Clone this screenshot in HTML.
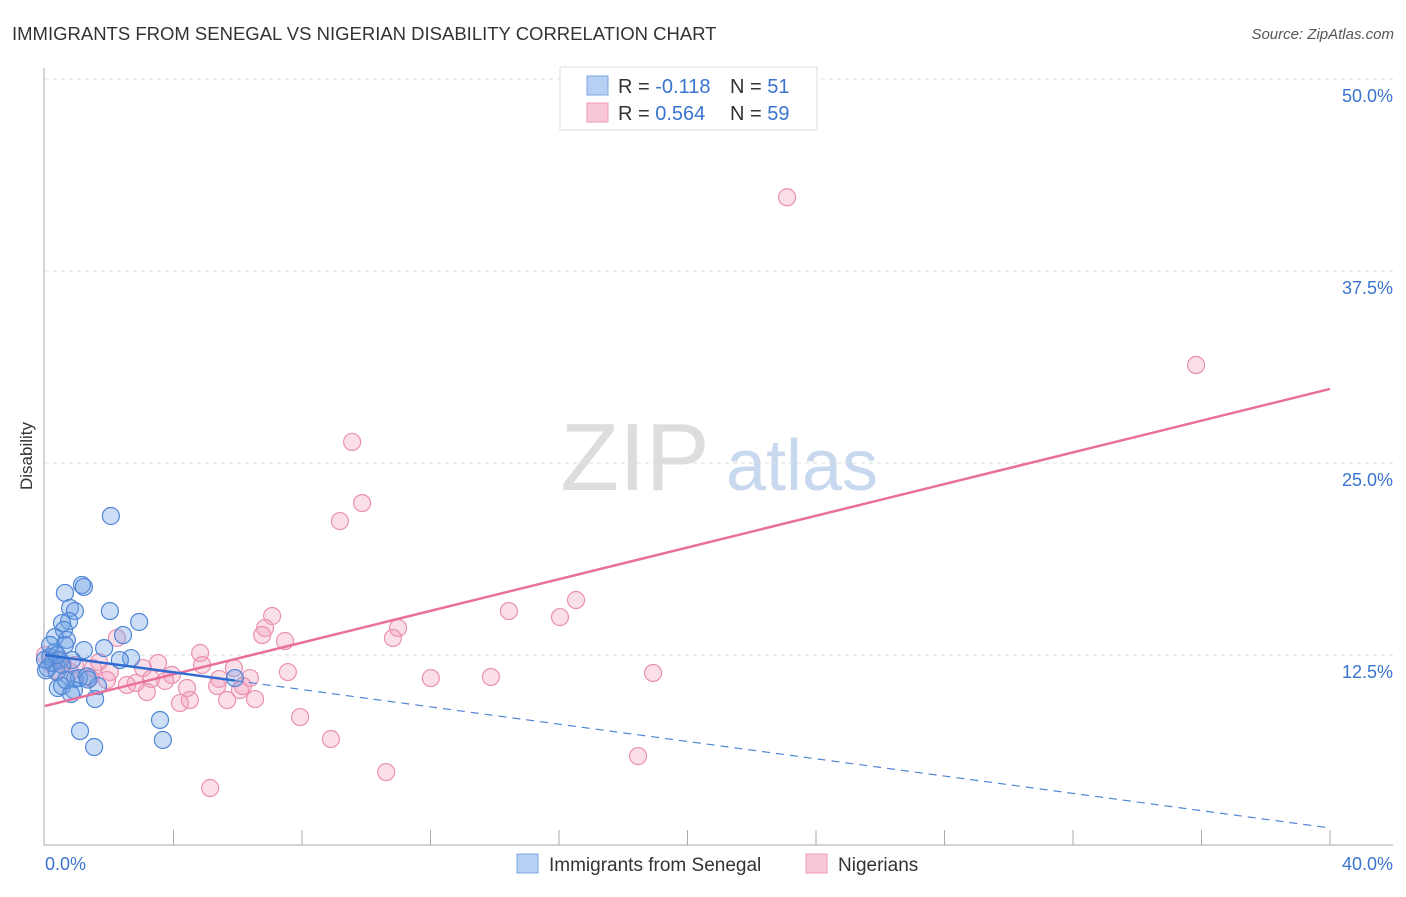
<!DOCTYPE html>
<html><head><meta charset="utf-8"><style>
body{margin:0;background:#fff;font-family:"Liberation Sans",sans-serif;}
svg text{font-family:"Liberation Sans",sans-serif;}
</style></head><body>
<svg id="chart" width="1406" height="892" xmlns="http://www.w3.org/2000/svg">
<text x="12" y="40" font-size="18.5" fill="#333">IMMIGRANTS FROM SENEGAL VS NIGERIAN DISABILITY CORRELATION CHART</text>
<text x="1394" y="39" font-size="15" fill="#555" font-style="italic" text-anchor="end">Source: ZipAtlas.com</text>
<text x="32" y="456" font-size="17" fill="#333" transform="rotate(-90 32 456)" text-anchor="middle">Disability</text>
<g>
<text x="635" y="490" font-size="96" fill="#ddd" text-anchor="middle" font-family="Liberation Serif,serif">ZIP</text>
<text x="802" y="490" font-size="72" fill="#c7d8ef" text-anchor="middle">atlas</text>
</g>
<g id="grid"></g><g id="marks"></g>
<g>
<rect x="560" y="67" width="257" height="63" fill="#fff" stroke="#ddd"/>
<rect x="587" y="76" width="21" height="19" fill="#b5d0f3" stroke="#7aa6e0"/>
<rect x="587" y="103" width="21" height="19" fill="#f9c8d6" stroke="#ee9ab5"/>
<text x="618" y="93" font-size="20" fill="#333">R = <tspan fill="#3a74d0">-0.118</tspan></text>
<text x="730" y="93" font-size="20" fill="#333">N = <tspan fill="#3a74d0"> 51</tspan></text>
<text x="618" y="120" font-size="20" fill="#333">R = <tspan fill="#3a74d0">0.564</tspan></text>
<text x="730" y="120" font-size="20" fill="#333">N = <tspan fill="#3a74d0">59</tspan></text>
</g>
<g>
<rect x="517" y="854" width="21" height="19" fill="#b5d0f3" stroke="#7aa6e0"/>
<text x="549" y="871" font-size="19" fill="#333">Immigrants from Senegal</text>
<rect x="806" y="854" width="21" height="19" fill="#f9c8d6" stroke="#ee9ab5"/>
<text x="838" y="871" font-size="19" fill="#333">Nigerians</text>
</g>
</svg>
<script>
const blueX=[2.05,1.15,1.21,0.62,0.78,0.93,2.02,0.75,2.93,0.53,0.59,2.43,0.31,0.68,0.62,1.21,1.84,0.31,0.16,0.47,2.68,0.09,0.84,0.37,0.93,1.06,5.91,0.40,0.53,0.90,1.65,1.56,0.81,3.58,1.09,3.67,1.53,0.03,0.25,0.0,1.31,0.53,0.16,0.65,0.37,1.34,2.33];
const blueY=[21.55,17.06,16.93,16.54,15.56,15.36,15.36,14.71,14.65,14.58,14.13,13.80,13.67,13.48,13.15,12.82,12.95,12.69,12.37,12.17,12.30,11.65,12.17,11.39,10.94,11.00,11.00,10.35,10.48,10.22,10.48,9.63,9.96,8.27,7.55,6.97,6.51,11.5,11.98,12.2,11.1,11.85,13.15,10.87,12.5,10.9,12.17];
const pinkX=[23.10,35.83,9.56,9.87,9.18,16.53,14.44,16.03,7.07,6.85,6.76,10.99,10.83,7.47,2.24,4.83,3.52,1.68,4.89,5.88,7.56,18.93,12.01,13.88,3.05,1.49,2.02,3.95,3.30,3.74,1.93,5.42,6.38,2.55,2.83,5.36,4.42,6.07,6.16,3.17,4.20,4.51,5.67,6.54,7.94,8.90,10.62,18.46,5.14,0.40,0.56,0.16,0.78,0.34,0.93,0.0,1.4];
const pinkY=[42.3,31.38,26.37,22.39,21.22,16.08,15.36,14.97,15.04,14.26,13.80,14.26,13.61,13.41,13.61,12.63,11.98,12.04,11.85,11.65,11.39,11.33,11.00,11.07,11.65,11.65,11.39,11.20,10.94,10.81,10.87,10.94,11.00,10.55,10.68,10.48,10.35,10.22,10.48,10.09,9.37,9.57,9.57,9.63,8.46,7.03,4.88,5.92,3.84,12.17,11.85,11.98,11.39,11.52,11.85,12.5,11.0];
const yTicks=[12.5,25,37.5,50];
const yTickLabels=["12.5%","25.0%","37.5%","50.0%"];
const blueTrend=[12.5,-0.2815];
const pinkTrend=[9.18,0.516];
const blueSolidEnd=5.91;
const NS="http://www.w3.org/2000/svg";
const sx=v=>45+v/40*1285;
const sy=v=>847-v/50*768;
function mk(tag,attrs,parent){const e=document.createElementNS(NS,tag);for(const k in attrs)e.setAttribute(k,attrs[k]);parent.appendChild(e);return e;}
const grid=document.getElementById('grid'),marks=document.getElementById('marks');
yTicks.forEach((t,i)=>{
 const l=mk('line',{x1:45,x2:1393,y1:sy(t),y2:sy(t),stroke:'#ddd','stroke-dasharray':'4,4'},grid);
 
 
 const tx=mk('text',{x:1393,y:sy(t)+23,'font-size':18,fill:'#3a74d0','text-anchor':'end'},grid);
 tx.textContent=yTickLabels[i];
 
 
});
const ax=mk('line',{x1:44,x2:44,y1:68,y2:845,stroke:'#aaa'},grid);


const bx=mk('line',{x1:44,x2:1393,y1:845,y2:845,stroke:'#aaa'},grid);


for(let i=1;i<=10;i++){const t=mk('line',{x1:sx(i*4),x2:sx(i*4),y1:830,y2:845,stroke:'#aaa'},grid);
 
 }
[[0,"0.0%","start",45],[40,"40.0%","end",1393]].forEach(d=>{const t=mk('text',{x:d[3],y:870,'font-size':18,fill:'#3a74d0','text-anchor':d[2]},grid);t.textContent=d[1];
 
 });
function dots(X,Y,fill,stroke,name){X.forEach((x,i)=>{const c=mk('circle',{cx:sx(x),cy:sy(Y[i]),r:8.5,fill:fill,stroke:stroke,'stroke-width':1.2},marks);
 
 });}
dots(pinkX,pinkY,'rgba(242,160,188,0.35)','#eb90b0','nigerian-point');
dots(blueX,blueY,'rgba(110,160,228,0.35)','#4f86d6','senegal-point');
const pl=mk('line',{x1:sx(0),y1:sy(pinkTrend[0]),x2:sx(40),y2:sy(pinkTrend[0]+pinkTrend[1]*40),stroke:'#e8709a','stroke-width':2.5},marks);


const bl=mk('line',{x1:sx(0),y1:sy(blueTrend[0]),x2:sx(blueSolidEnd),y2:sy(blueTrend[0]+blueTrend[1]*blueSolidEnd),stroke:'#2f6bd0','stroke-width':2.5},marks);


const bd=mk('line',{x1:sx(blueSolidEnd),y1:sy(blueTrend[0]+blueTrend[1]*blueSolidEnd),x2:sx(40),y2:sy(blueTrend[0]+blueTrend[1]*40),stroke:'#4f86d6','stroke-width':1.2,'stroke-dasharray':'8,6'},marks);


</script>
</body></html>
